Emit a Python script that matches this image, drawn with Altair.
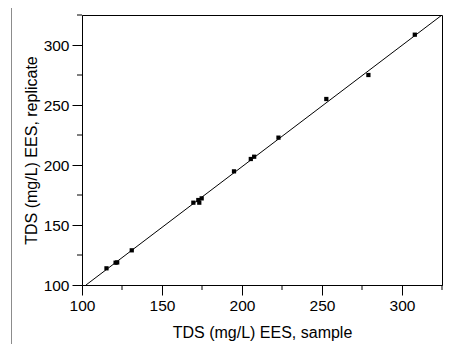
import altair as alt
import pandas as pd

sample = [115.3, 121.0, 122.0, 131.1, 169.6, 173.3, 172.7, 174.8, 195.0, 205.5, 207.6, 222.8, 252.7, 279.0, 308.0]
replicate = [113.9, 118.6, 118.8, 128.9, 168.6, 168.6, 170.8, 172.2, 194.7, 205.0, 206.9, 222.8, 255.0, 275.0, 308.6]

line_x = [102.5, 325.0]
line_y = [100.0, 325.0]

major_ticks = [100, 150, 200, 250, 300]
minor_ticks = [125, 175, 225, 275, 325]

pts = pd.DataFrame({"sample": sample, "replicate": replicate})
ln = pd.DataFrame({"sample": line_x, "replicate": line_y})
mn = pd.DataFrame({"v": minor_ticks})

FONT = "Liberation Sans"

xscale = alt.Scale(domain=[100, 325], nice=False, zero=False)
yscale = alt.Scale(domain=[100, 325], nice=False, zero=False)


def make_axis(title, title_pad):
    return alt.Axis(values=major_ticks, tickSize=10, tickColor="black", tickWidth=1,
                    grid=False, domainColor="black", domainWidth=1, labelFlush=False,
                    labelFont=FONT, labelFontSize=15.5, labelColor="black", labelPadding=3,
                    titleFont=FONT, titleFontSize=16, titleFontWeight="normal", titleColor="black",
                    titlePadding=title_pad, title=title)


line = alt.Chart(ln).mark_line(color="black", strokeWidth=1, clip=True).encode(
    x=alt.X("sample:Q", scale=xscale, axis=make_axis("TDS (mg/L) EES, sample", 11)),
    y=alt.Y("replicate:Q", scale=yscale, axis=make_axis("TDS (mg/L) EES, replicate", 4)),
)
points = alt.Chart(pts).mark_square(color="black", size=18, opacity=1).encode(
    x=alt.X("sample:Q", scale=xscale),
    y=alt.Y("replicate:Q", scale=yscale),
)
minor_x = alt.Chart(mn).mark_rule(color="black", strokeWidth=1).encode(
    x=alt.X("v:Q", scale=xscale), y=alt.value(270), y2=alt.value(275)
)
minor_y = alt.Chart(mn).mark_rule(color="black", strokeWidth=1).encode(
    y=alt.Y("v:Q", scale=yscale), x=alt.value(-5), x2=alt.value(0)
)

border_color = "#8c8c8c"
bdf = pd.DataFrame({"k": [0]})
left_border = alt.Chart(bdf).mark_rule(color=border_color, strokeWidth=1).encode(
    x=alt.value(-70.5), y=alt.value(-11.5), y2=alt.value(330)
)
top_border = alt.Chart(bdf).mark_rule(color=border_color, strokeWidth=1).encode(
    x=alt.value(-70.5), x2=alt.value(370), y=alt.value(-11.5)
)

chart = alt.layer(left_border, top_border, line, minor_x, minor_y, points).properties(
    width=360, height=270,
    background="white",
    autosize=alt.AutoSizeParams(type="none"),
    padding={"left": 74, "top": 7, "right": 9, "bottom": 59},
).configure_view(stroke="black", strokeWidth=1)

chart.save("out.html", embed_options={"renderer": "svg", "actions": False})
